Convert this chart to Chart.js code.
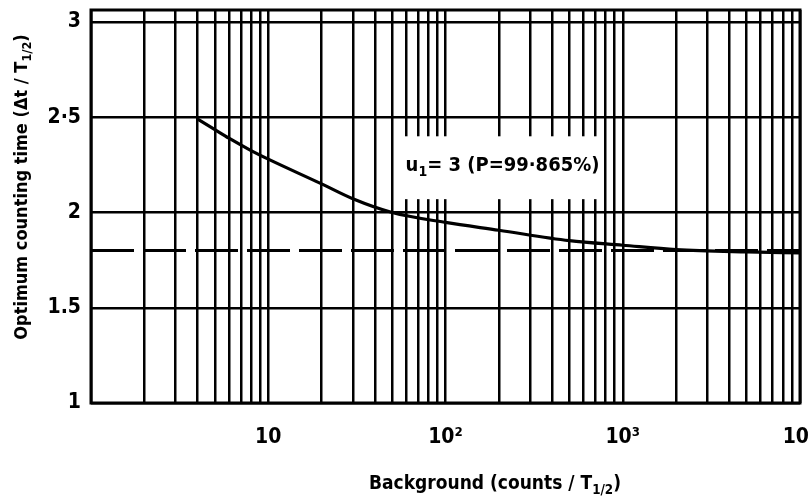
<!DOCTYPE html>
<html>
<head>
<meta charset="utf-8">
<script src="https://cdn.jsdelivr.net/npm/chart.js@4.4.1/dist/chart.umd.min.js"></script>
<style>
  html, body { margin: 0; padding: 0; background: #fff; }
  #wrap { width: 808px; height: 499px; }
</style>
</head>
<body>
<div id="wrap"><canvas id="optChart" width="808" height="499"></canvas></div>
<script>
// Curve: optimum counting time vs background, u1 = 3
var backgroundCounts = [4, 5, 6, 8, 10, 20, 30, 50, 100, 200, 500, 1000, 2000, 5000, 10000];
var optimumTime = [2.49, 2.435, 2.39, 2.325, 2.28, 2.15, 2.072, 2.0, 1.948, 1.907, 1.852, 1.828, 1.805, 1.793, 1.788];

// Dashed asymptote
var asymptoteX = [1, 10000];
var asymptoteY = [1.8, 1.8];

// Axis ticks / grid
var xGridValues = [];
[1, 10, 100, 1000].forEach(function (d) {
    for (var m = 1; m <= 9; m++) xGridValues.push(m * d);
});
xGridValues.push(10000);
var xTickLabels = { 10: "10", 100: "10²", 1000: "10³", 10000: "10⁴" };
var yTickValues = [1, 1.5, 2, 2.5, 3];
var yTickLabels = { 1: "1", 1.5: "1.5", 2: "2", 2.5: "2·5", 3: "3" };
var xMin = 1, xMax = 10000, yMin = 1, yMax = 3.063;

// Curve label and the white patch behind it (data coordinates)
var curveLabel = { x: 58, y: 2.245, main: "u", sub: "1", rest: "= 3 (P=99·865%)" };
var labelPatch = { x0: 56, x1: 720, y0: 2.07, y1: 2.40 };

var FONT = "'Liberation Sans Narrow', 'DejaVu Sans Condensed', 'Liberation Sans', sans-serif";

// draw a piece of text with a "1/2" style subscript part
function drawSubText(ctx, parts, x, y, size) {
    var cx = x;
    parts.forEach(function (p) {
        var s = p.sub ? size * 0.7 : size;
        ctx.font = "bold " + s + "px " + FONT;
        ctx.fillText(p.t, cx, p.sub ? y + size * 0.32 : y);
        cx += ctx.measureText(p.t).width;
    });
    return cx - x;
}
function measureSubText(ctx, parts, size) {
    var w = 0;
    parts.forEach(function (p) {
        ctx.font = "bold " + (p.sub ? size * 0.7 : size) + "px " + FONT;
        w += ctx.measureText(p.t).width;
    });
    return w;
}

var extrasPlugin = {
    id: "extras",
    afterDraw: function (chart) {
        var ctx = chart.ctx;
        var a = chart.chartArea;
        var xs = chart.scales.x, ys = chart.scales.y;
        ctx.save();

        // frame
        ctx.strokeStyle = "#000";
        ctx.lineWidth = 3;
        ctx.strokeRect(a.left, a.top, a.right - a.left, a.bottom - a.top);

        // label with white patch
        var px0 = xs.getPixelForValue(labelPatch.x0), px1 = xs.getPixelForValue(labelPatch.x1);
        var py0 = ys.getPixelForValue(labelPatch.y1), py1 = ys.getPixelForValue(labelPatch.y0);
        ctx.fillStyle = "#fff";
        ctx.fillRect(px0, py0, px1 - px0, py1 - py0);
        ctx.fillStyle = "#000";
        ctx.textBaseline = "middle";
        ctx.textAlign = "left";
        var lx = xs.getPixelForValue(curveLabel.x) + 2;
        var ly = ys.getPixelForValue(curveLabel.y);
        drawSubText(ctx, [{ t: curveLabel.main }, { t: curveLabel.sub, sub: true }, { t: curveLabel.rest }], lx, ly, 20);

        // x axis title
        var xParts = [{ t: "Background (counts / T" }, { t: "1/2", sub: true }, { t: ")" }];
        var xw = measureSubText(ctx, xParts, 19);
        drawSubText(ctx, xParts, 495 - xw / 2, 484, 19);

        // y axis title (rotated)
        var yParts = [{ t: "Optimum counting time (Δt / T" }, { t: "1/2", sub: true }, { t: ")" }];
        var yw = measureSubText(ctx, yParts, 18);
        ctx.translate(22, 187);
        ctx.rotate(-Math.PI / 2);
        drawSubText(ctx, yParts, -yw / 2, 0, 18);
        ctx.restore();
    }
};

var ctx = document.getElementById("optChart").getContext("2d");
var optChart = new Chart(ctx, {
    type: "line",
    data: {
        datasets: [{
            data: backgroundCounts.map(function (b, i) { return { x: b, y: optimumTime[i] }; }),
            borderColor: "#000",
            borderWidth: 3.2,
            pointRadius: 0,
            cubicInterpolationMode: "monotone",
            fill: false
        }, {
            data: asymptoteX.map(function (b, i) { return { x: b, y: asymptoteY[i] }; }),
            borderColor: "#000",
            borderWidth: 3,
            borderDash: [43, 9],
            pointRadius: 0,
            fill: false
        }]
    },
    options: {
        responsive: false,
        animation: false,
        layout: { padding: { top: 10, right: 8, left: 0, bottom: 0 } },
        plugins: {
            legend: { display: false },
            tooltip: { enabled: false }
        },
        scales: {
            x: {
                type: "logarithmic",
                min: xMin,
                max: xMax,
                afterBuildTicks: function (scale) {
                    scale.ticks = xGridValues.map(function (v) { return { value: v }; });
                },
                afterFit: function (scale) {
                    scale.height = 96;
                    scale.paddingLeft = 0;
                    scale.paddingRight = 0;
                },
                grid: { color: "#000", lineWidth: 2.5, drawTicks: false },
                border: { display: false },
                ticks: {
                    autoSkip: false,
                    maxRotation: 0,
                    padding: 22,
                    color: "#000",
                    font: { family: FONT, size: 21, weight: "bold" },
                    callback: function (value) {
                        return xTickLabels[value] || "";
                    }
                }
            },
            y: {
                type: "linear",
                min: yMin,
                max: yMax,
                afterBuildTicks: function (scale) {
                    scale.ticks = yTickValues.map(function (v) { return { value: v }; });
                },
                afterFit: function (scale) {
                    scale.width = 91;
                    scale.paddingTop = 0;
                    scale.paddingBottom = 0;
                },
                grid: { color: "#000", lineWidth: 2.5, drawTicks: false },
                border: { display: false },
                ticks: {
                    padding: 10,
                    color: "#000",
                    font: { family: FONT, size: 21, weight: "bold" },
                    callback: function (value) {
                        return yTickLabels[value] || "";
                    }
                }
            }
        }
    },
    plugins: [extrasPlugin]
});
</script>
</body>
</html>
